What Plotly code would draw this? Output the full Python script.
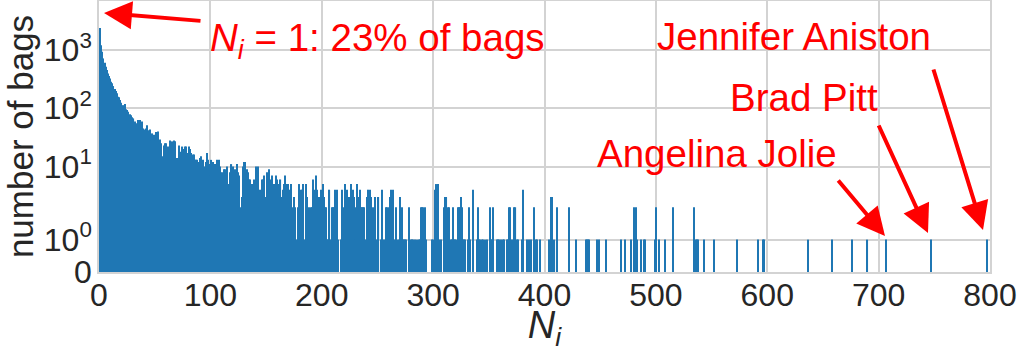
import math
import plotly.graph_objects as go

# Histogram counts for N_i = 1 .. 381
dense_counts = [
    2370, 1210, 930, 716, 602, 515, 452, 396, 356, 325,
    284, 267, 240, 213, 197, 180, 157, 154, 138, 124,
    109, 113, 118, 96, 93, 87, 76, 79, 76, 70,
    67, 59, 55, 49, 63, 51, 63, 42, 59, 45,
    43, 45, 51, 35, 42, 43, 28, 37, 35, 28,
    39, 37, 40, 25, 29, 25, 15, 23, 25, 25,
    14, 22, 20, 28, 18, 27, 28, 27, 14, 14,
    12, 23, 13, 18, 22, 20, 22, 22, 17, 13,
    22, 20, 17, 16, 16, 13, 13, 13, 10, 12,
    14, 15, 13, 9, 10, 12, 17, 13, 11, 7,
    13, 12, 5, 11, 11, 13, 9, 13, 10, 8,
    8, 9, 9, 7, 10, 5, 4, 8, 11, 10,
    8, 9, 3, 11, 8, 7, 2, 3, 10, 12,
    12, 6, 9, 8, 6, 6, 5, 4, 6, 2,
    10, 3, 10, 2, 4, 6, 6, 7, 3, 3,
    8, 6, 9, 6, 7, 5, 5, 2, 7, 6,
    4, 5, 6, 3, 4, 5, 7, 5, 4, 5,
    4, 5, 1, 2, 3, 2, 1, 0, 2, 5,
    4, 4, 5, 0, 1, 5, 3, 1, 2, 2,
    2, 6, 4, 2, 7, 4, 3, 3, 4, 3,
    5, 3, 2, 2, 1, 1, 4, 1, 2, 2,
    2, 4, 3, 4, 1, 0, 1, 4, 2, 1,
    5, 2, 4, 3, 3, 5, 2, 4, 3, 1,
    2, 5, 3, 4, 2, 2, 2, 2, 1, 0,
    3, 4, 4, 3, 2, 1, 2, 3, 0, 1,
    3, 0, 1, 4, 1, 0, 1, 2, 2, 2,
    3, 4, 2, 4, 1, 0, 2, 1, 1, 3,
    1, 2, 1, 1, 1, 1, 0, 2, 0, 1,
    1, 1, 0, 1, 0, 1, 1, 1, 2, 2,
    2, 0, 2, 1, 0, 0, 0, 0, 1, 1,
    0, 4, 5, 5, 1, 0, 1, 0, 0, 2,
    3, 3, 2, 2, 0, 1, 1, 2, 1, 1,
    1, 2, 2, 2, 3, 2, 1, 1, 1, 0,
    1, 2, 1, 0, 0, 4, 0, 0, 1, 2,
    1, 1, 0, 1, 1, 0, 1, 1, 0, 0,
    2, 1, 1, 2, 0, 0, 1, 1, 1, 0,
    1, 0, 1, 1, 0, 1, 1, 2, 2, 1,
    0, 1, 2, 2, 1, 1, 0, 0, 0, 1,
    4,
]

# Sparse tail (N_i > 381): only non-empty bins
tail_n = [384, 386, 388, 391, 392, 393, 396, 404, 406, 407, 409, 411, 422, 428,
          437, 438, 439, 440, 447, 449, 455, 469, 472, 478, 480, 481, 482, 483,
          487, 489, 490, 499, 500, 503, 508, 515, 534, 536, 537, 538, 543, 552,
          573, 592, 596, 597, 637, 658, 676, 690, 707, 747, 797]
tail_counts = [1, 1, 1, 2, 1, 1, 1, 1, 3, 3, 1, 2, 2, 1,
               1, 1, 1, 1, 1, 1, 1, 1, 1, 1, 2, 1, 2, 1,
               1, 1, 1, 1, 2, 1, 1, 2, 2, 1, 1, 1, 1, 1,
               1, 1, 1, 1, 1, 1, 1, 1, 1, 1, 1]

x_ticks = [0, 100, 200, 300, 400, 500, 600, 700, 800]
y_tick_values = [0, 1, 10, 100, 1000]
y_tick_labels = ["0", "10<sup>0</sup>", "10<sup>1</sup>", "10<sup>2</sup>", "10<sup>3</sup>"]

# symmetric-log scale (linthresh=2, linscale=1, base 10) like matplotlib
LINTHRESH = 2.0
LINSCALE_ADJ = 1.0 / (1.0 - 1.0 / 10.0)


def symlog(v):
    if v <= LINTHRESH:
        return v * LINSCALE_ADJ
    return LINTHRESH * (LINSCALE_ADJ + math.log10(v / LINTHRESH))


n_all = list(range(1, len(dense_counts) + 1)) + tail_n
c_all = dense_counts + tail_counts
xs = [n for n, c in zip(n_all, c_all) if c > 0]
ys = [symlog(c) for c in c_all if c > 0]

BLUE = "#1f77b4"
GRID = "#d3d3d3"
TXT = "#262626"
FONT = "Liberation Sans, Arial, sans-serif"

fig = go.Figure(go.Bar(x=xs, y=ys, width=1.0,
                       marker=dict(color=BLUE, line=dict(width=0)),
                       hoverinfo="skip"))

L, R, T, B = 99, 27, 1, 80
W, H = 1017, 352
pw, ph = W - L - R, H - T - B


def px(xp):
    return (xp - L) / pw


def py(yp):
    return (H - B - yp) / ph


fig.update_layout(
    width=W, height=H,
    margin=dict(l=L, r=R, t=T, b=B, pad=0),
    paper_bgcolor="white", plot_bgcolor="white",
    font=dict(family=FONT, color=TXT),
    showlegend=False,
    xaxis=dict(range=[0, 800], tickvals=x_ticks, tickfont=dict(size=32, color=TXT),
               showgrid=True, gridcolor=GRID, gridwidth=1.5,
               showline=True, mirror=True, linecolor=GRID, linewidth=1.5,
               zeroline=False, ticks="", ticklabelstandoff=-6, automargin=False,
               title=dict(text="<i>N<sub>i</sub></i>", font=dict(size=38, color=TXT), standoff=10)),
    yaxis=dict(range=[0, 9.30], tickvals=[symlog(v) for v in y_tick_values],
               ticktext=y_tick_labels, tickfont=dict(size=32, color=TXT),
               showgrid=True, gridcolor=GRID, gridwidth=1.5,
               showline=True, mirror=True, linecolor=GRID, linewidth=1.5,
               zeroline=False, ticks="", ticklabelstandoff=-1, automargin=False,
               title=dict(text="number of bags", font=dict(size=35, color=TXT), standoff=0)),
)

RED = "red"
texts = [
    ("<i>N<sub>i</sub></i> = 1: 23% of bags", 208, 40),
    ("Jennifer Aniston", 655, 37),
    ("Brad Pitt", 728, 97),
    ("Angelina Jolie", 595, 153),
]
for t, xp, yp in texts:
    fig.add_annotation(text=t, xref="paper", yref="paper", x=px(xp), y=py(yp),
                       xanchor="left", yanchor="middle", showarrow=False,
                       font=dict(size=38.5, color=RED, family=FONT))

# arrows: (tip_x, tip_y, tail_x, tail_y) in pixels
arrows = [
    (104, 13, 202, 21),
    (983, 230, 933, 68),
    (928, 233, 878, 124),
    (885, 236, 837, 179),
]
for tx, ty, sx, sy in arrows:
    fig.add_annotation(text="", xref="paper", yref="paper", x=px(tx), y=py(ty),
                       ax=sx - tx, ay=sy - ty, showarrow=True,
                       arrowcolor=RED, arrowwidth=4, arrowhead=2, arrowsize=1.4, standoff=0)

fig.write_html("out.html")
